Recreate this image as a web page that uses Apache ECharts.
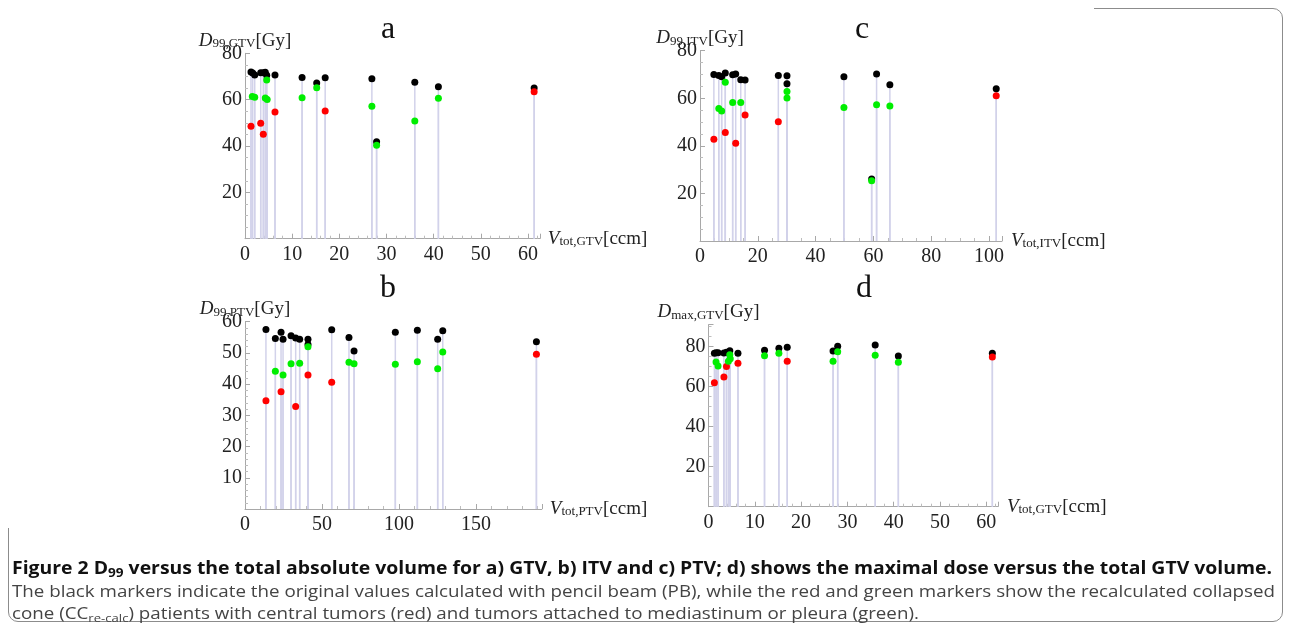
<!DOCTYPE html>
<html>
<head>
<meta charset="utf-8">
<script src="https://cdn.jsdelivr.net/npm/echarts@6/dist/echarts.min.js"></script>
<style>
  html, body { margin: 0; padding: 0; background: #fff; }
  #wrap { position: relative; width: 1290px; height: 630px; overflow: hidden; }
  #frame { position: absolute; left: 8px; top: 8px; width: 1273px; height: 612px; border: 1px solid #8c8c8c; border-radius: 10px; }
  #cover { position: absolute; left: 0; top: 0; width: 1094px; height: 528px; background: #fff; }
  #main { position: absolute; left: 0; top: 0; width: 1290px; height: 630px; }
  .cap { position: absolute; left: 12px; font-family: "Open Sans", sans-serif; white-space: nowrap; transform-origin: left center; line-height: 22px; }
  .cap sub { font-size: 70%; vertical-align: -3px; line-height: 0; }
  #cap1 { top: 557px; font-size: 17px; font-weight: bold; color: #111; }
  #cap2 { top: 580px; font-size: 16px; color: #444; }
  #cap3 { top: 602px; font-size: 16px; color: #444; }
</style>
</head>
<body>
<div id="wrap">
  <div id="frame"></div>
  <div id="cover"></div>
  <div id="main"></div>
  <div class="cap" id="cap1">Figure 2 D<sub>99</sub> versus the total absolute volume for a) GTV, b) ITV and c) PTV; d) shows the maximal dose versus the total GTV volume.</div>
  <div class="cap" id="cap2">The black markers indicate the original values calculated with pencil beam (PB), while the red and green markers show the recalculated collapsed</div>
  <div class="cap" id="cap3">cone (CC<sub>re-calc</sub>) patients with central tumors (red) and tumors attached to mediastinum or pleura (green).</div>
</div>
<script>
// panel a: D99 GTV vs GTV volume
const aBlack = [[1.27, 71.9], [1.63, 71.5], [2.06, 70.6], [3.33, 71.6], [3.88, 71.6], [4.3, 71.8], [4.6, 70.5], [6.36, 70.6], [12.1, 69.6], [15.2, 67.2], [17.0, 69.5], [26.9, 69.0], [27.9, 41.8], [36.0, 67.5], [41.0, 65.6], [61.3, 65.0]];
const aRed = [[1.27, 48.5], [3.33, 49.8], [3.88, 45.1], [6.36, 54.7], [17.0, 55.1], [61.3, 63.4]];
const aGreen = [[1.55, 61.4], [2.06, 61.0], [4.3, 60.7], [4.6, 68.5], [4.7, 60.1], [12.1, 60.8], [15.2, 65.1], [26.9, 57.2], [27.9, 40.3], [36.0, 50.8], [41.0, 60.6]];

// panel b: D99 PTV vs PTV volume
const bBlack = [[13.6, 57.5], [19.7, 54.6], [23.4, 56.6], [24.7, 54.4], [29.9, 55.5], [32.9, 54.8], [35.5, 54.4], [40.9, 54.4], [40.9, 52.7], [56.3, 57.4], [67.5, 54.9], [70.8, 50.6], [97.6, 56.6], [111.9, 57.3], [125.1, 54.4], [128.4, 57.1], [189.2, 53.6]];
const bRed = [[13.6, 34.7], [23.4, 37.6], [32.9, 32.8], [40.9, 42.9], [56.3, 40.6], [189.2, 49.6]];
const bGreen = [[19.7, 44.1], [24.7, 42.9], [29.9, 46.5], [35.5, 46.7], [40.9, 52.0], [67.5, 47.0], [70.8, 46.5], [97.6, 46.4], [111.9, 47.2], [125.1, 44.9], [128.4, 50.3]];

// panel c: D99 ITV vs ITV volume
const cBlack = [[4.8, 70.0], [6.5, 69.6], [7.5, 69.1], [8.75, 70.6], [11.3, 69.9], [12.35, 70.2], [14.1, 67.8], [15.6, 67.7], [27.1, 69.6], [30.1, 69.5], [30.1, 66.1], [49.8, 69.1], [59.4, 26.1], [61.1, 70.2], [65.7, 65.7], [102.5, 64.0]];
const cRed = [[4.8, 42.8], [8.75, 45.6], [12.35, 41.1], [15.6, 53.0], [27.1, 50.1], [102.5, 61.1]];
const cGreen = [[6.5, 55.7], [7.5, 54.7], [8.75, 66.7], [11.3, 58.2], [14.1, 58.2], [30.1, 62.9], [30.1, 60.1], [49.8, 56.1], [59.4, 25.3], [61.1, 57.3], [65.7, 56.7]];

// panel d: Dmax GTV vs GTV volume
const dBlack = [[1.27, 76.7], [1.63, 77.0], [2.06, 77.0], [3.33, 76.8], [3.88, 77.2], [4.6, 78.0], [6.36, 76.7], [12.1, 78.2], [15.2, 79.2], [17.0, 79.7], [26.9, 77.8], [27.9, 80.2], [36.0, 80.8], [41.0, 75.3], [61.3, 76.7]];
const dRed = [[1.27, 62.0], [3.33, 64.8], [3.88, 70.1], [6.36, 71.7], [17.0, 72.7], [61.3, 74.9]];
const dGreen = [[1.63, 72.3], [2.06, 70.4], [4.3, 72.7], [4.6, 76.0], [4.7, 74.0], [12.1, 75.5], [15.2, 76.7], [26.9, 72.7], [27.9, 77.5], [36.0, 75.7], [41.0, 72.2]];

const panelLetters = ["a", "b", "c", "d"];

const SERIF = '"Liberation Serif", "DejaVu Serif", serif';
const AXIS_GREY = "#a8a8a8";

const nameRich = {
  v: { fontFamily: SERIF, fontStyle: "italic", fontSize: 19, color: "#222" },
  s: { fontFamily: SERIF, fontSize: 13, color: "#222", verticalAlign: "bottom", lineHeight: 13 },
  u: { fontFamily: SERIF, fontSize: 19, color: "#222" },
};

function nameText(letter, sub, unit) {
  return "{v|" + letter + "}{s|" + sub + "}{u|[" + unit + "]}";
}

function xAxisFor(i, max, interval, minorSplit, name, gap) {
  return {
    type: "value", gridIndex: i, min: 0, max: max, interval: interval,
    name: name, nameLocation: "end", nameGap: gap, nameMoveOverlap: false,
    nameTextStyle: { rich: nameRich, align: "left", verticalAlign: "middle" },
    axisLine: { onZero: false, lineStyle: { color: AXIS_GREY, width: 1 } },
    axisTick: { inside: true, length: 5, lineStyle: { color: AXIS_GREY } },
    minorTick: { show: true, splitNumber: minorSplit, length: 3, lineStyle: { color: "#bdbdbd" } },
    axisLabel: {
      margin: 6, fontFamily: SERIF, fontSize: 20, color: "#222",
      formatter: (v) => (Math.abs(v % interval) < 1e-6 ? String(v) : ""),
    },
    splitLine: { show: false },
  };
}

function yAxisFor(i, max, interval, minorSplit, name, gap) {
  return {
    type: "value", gridIndex: i, min: 0, max: max, interval: interval,
    name: name, nameLocation: "end", nameGap: gap, nameMoveOverlap: false,
    nameTextStyle: { rich: nameRich, align: "center", verticalAlign: "bottom" },
    axisLine: { onZero: false, lineStyle: { color: AXIS_GREY, width: 1 } },
    axisTick: { inside: true, length: 5, lineStyle: { color: AXIS_GREY } },
    minorTick: { show: true, splitNumber: minorSplit, length: 3, lineStyle: { color: "#bdbdbd" } },
    axisLabel: {
      margin: 3, fontFamily: SERIF, fontSize: 20, color: "#222",
      formatter: (v) => (v > 0 && Math.abs(v % interval) < 1e-6 ? String(v) : ""),
    },
    splitLine: { show: false },
  };
}

function stems(i, black, red, green) {
  return {
    type: "custom", xAxisIndex: i, yAxisIndex: i, z: 1, silent: true,
    data: black.concat(red, green),
    encode: { x: 0, y: 1 },
    renderItem: (params, api) => {
      const top = api.coord([api.value(0), api.value(1)]);
      const base = api.coord([api.value(0), 0]);
      return {
        type: "line",
        shape: { x1: base[0], y1: base[1], x2: top[0], y2: top[1] },
        style: { stroke: "#d2d2ea", lineWidth: 1.5 },
      };
    },
  };
}

function dots(i, data, color) {
  return {
    type: "scatter", xAxisIndex: i, yAxisIndex: i, z: 3,
    data: data, symbolSize: 7,
    itemStyle: { color: color, opacity: 1 },
  };
}

const grids = [
  { left: 245, top: 53.3, width: 294.8, height: 185.4 },   // a
  { left: 245, top: 321.7, width: 296.8, height: 187.3 },  // b
  { left: 700, top: 50.7, width: 302, height: 190.3 },     // c
  { left: 708.5, top: 324.7, width: 289.4, height: 182 },  // d
];

const letterPos = [[388, 30], [388, 289], [862, 30], [864, 289]];

const myChart = echarts.init(document.getElementById("main"));

const options = {
  animation: false,
  grid: grids,
  xAxis: [
    xAxisFor(0, 62.5, 10, 5, nameText("V", "tot,GTV", "ccm"), 8),
    xAxisFor(1, 192.7, 50, 5, nameText("V", "tot,PTV", "ccm"), 8),
    xAxisFor(2, 104.5, 20, 4, nameText("V", "tot,ITV", "ccm"), 9),
    xAxisFor(3, 62.5, 10, 5, nameText("V", "tot,GTV", "ccm"), 9),
  ],
  yAxis: [
    yAxisFor(0, 80, 20, 4, nameText("D", "99,GTV", "Gy"), 3),
    yAxisFor(1, 60, 10, 5, nameText("D", "99,PTV", "Gy"), 3),
    yAxisFor(2, 80, 20, 4, nameText("D", "99,ITV", "Gy"), 3),
    yAxisFor(3, 91, 20, 4, nameText("D", "max,GTV", "Gy"), 3),
  ],
  graphic: panelLetters.map((t, k) => ({
    type: "text", x: letterPos[k][0], y: letterPos[k][1],
    style: { text: t, font: "32px " + SERIF, fill: "#111", align: "center", verticalAlign: "middle" },
  })),
  series: [
    stems(0, aBlack, aRed, aGreen),
    dots(0, aBlack, "#000000"), dots(0, aRed, "#ff0000"), dots(0, aGreen, "#00ee00"),
    stems(1, bBlack, bRed, bGreen),
    dots(1, bBlack, "#000000"), dots(1, bRed, "#ff0000"), dots(1, bGreen, "#00ee00"),
    stems(2, cBlack, cRed, cGreen),
    dots(2, cBlack, "#000000"), dots(2, cRed, "#ff0000"), dots(2, cGreen, "#00ee00"),
    stems(3, dBlack, dRed, dGreen),
    dots(3, dBlack, "#000000"), dots(3, dRed, "#ff0000"), dots(3, dGreen, "#00ee00"),
  ],
};

myChart.setOption(options);

// caption: bold line stretched to its own width, the two body lines share one scale
const cap1 = document.getElementById("cap1");
cap1.style.transform = "scaleX(" + (1260 / cap1.getBoundingClientRect().width) + ")";
const bodyScale = 1263 / document.getElementById("cap2").getBoundingClientRect().width;
["cap2", "cap3"].forEach((id) => {
  document.getElementById(id).style.transform = "scaleX(" + bodyScale + ")";
});
</script>
</body>
</html>
